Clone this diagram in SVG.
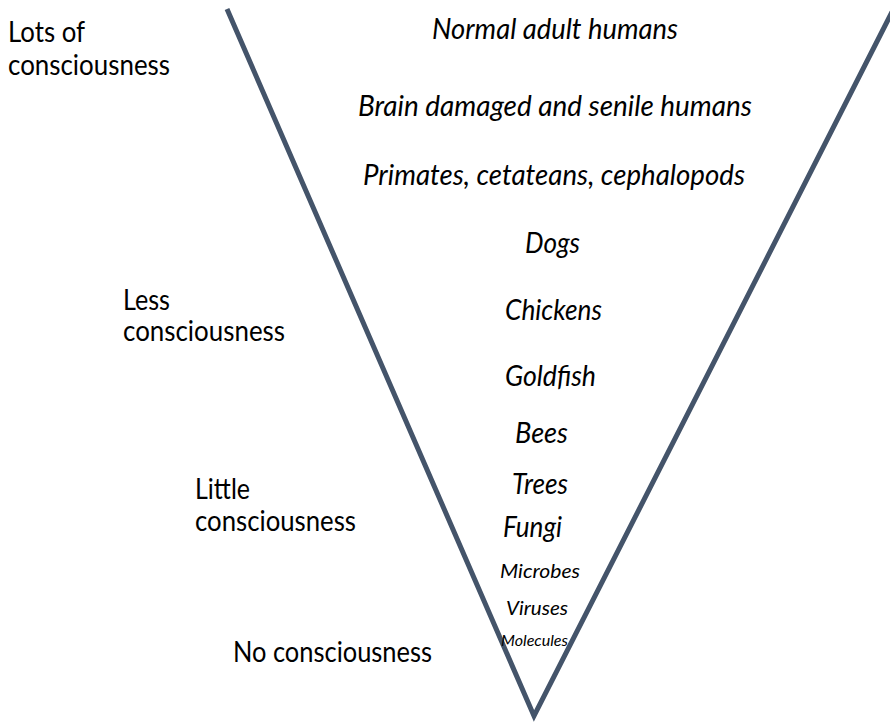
<svg xmlns="http://www.w3.org/2000/svg" width="890" height="724" viewBox="0 0 890 724">
<style>
.lbl{font-family:Lato,"Open Sans","Liberation Sans",sans-serif;font-size:28px;fill:#000}
.it{font-family:Lato,"Open Sans","Liberation Sans",sans-serif;font-style:italic;font-size:28px;fill:#000}
.line{fill:none;stroke:#44546A;stroke-width:5;stroke-linejoin:miter}
</style>
<rect width="890" height="724" fill="#fff"/>
<g id="connectors">
<polyline class="line" points="227,9 534,716 892,12"/>
</g>
<g id="lots"><text class="lbl" x="8" y="42" textLength="77" lengthAdjust="spacingAndGlyphs">Lots of</text><text class="lbl" x="8" y="75" textLength="162" lengthAdjust="spacingAndGlyphs">consciousness</text></g>
<g id="less"><text class="lbl" x="123" y="310" textLength="47" lengthAdjust="spacingAndGlyphs">Less</text><text class="lbl" x="123" y="341" textLength="162" lengthAdjust="spacingAndGlyphs">consciousness</text></g>
<g id="little"><text class="lbl" x="195" y="499" textLength="55" lengthAdjust="spacingAndGlyphs">Little</text><text class="lbl" x="195" y="531" textLength="161" lengthAdjust="spacingAndGlyphs">consciousness</text></g>
<g id="none"><text class="lbl" x="233" y="662" textLength="199" lengthAdjust="spacingAndGlyphs">No consciousness</text></g>
<g id="humans"><text class="it" x="432" y="39" textLength="246" lengthAdjust="spacingAndGlyphs">Normal adult humans</text></g>
<g id="brain"><text class="it" x="358" y="116" textLength="394" lengthAdjust="spacingAndGlyphs">Brain damaged and senile humans</text></g>
<g id="primates"><text class="it" x="363" y="185" textLength="382" lengthAdjust="spacingAndGlyphs">Primates, cetateans, cephalopods</text></g>
<g id="dogs"><text class="it" x="525" y="253" textLength="55" lengthAdjust="spacingAndGlyphs">Dogs</text></g>
<g id="chickens"><text class="it" x="505" y="320" textLength="97" lengthAdjust="spacingAndGlyphs">Chickens</text></g>
<g id="goldfish"><text class="it" x="505" y="386" textLength="91" lengthAdjust="spacingAndGlyphs">Goldfish</text></g>
<g id="bees"><text class="it" x="515" y="443" textLength="53" lengthAdjust="spacingAndGlyphs">Bees</text></g>
<g id="trees"><text class="it" x="512" y="494" textLength="56" lengthAdjust="spacingAndGlyphs">Trees</text></g>
<g id="fungi"><text class="it" x="503" y="537" textLength="59" lengthAdjust="spacingAndGlyphs">Fungi</text></g>
<g id="microbes"><text class="it" x="500" y="578" style="font-size:20px" textLength="80" lengthAdjust="spacingAndGlyphs">Microbes</text></g>
<g id="viruses"><text class="it" x="506" y="615" style="font-size:20px" textLength="62" lengthAdjust="spacingAndGlyphs">Viruses</text></g>
<g id="molecules"><text class="it" x="501" y="646" style="font-size:15px" textLength="67" lengthAdjust="spacingAndGlyphs">Molecules</text></g>
</svg>
